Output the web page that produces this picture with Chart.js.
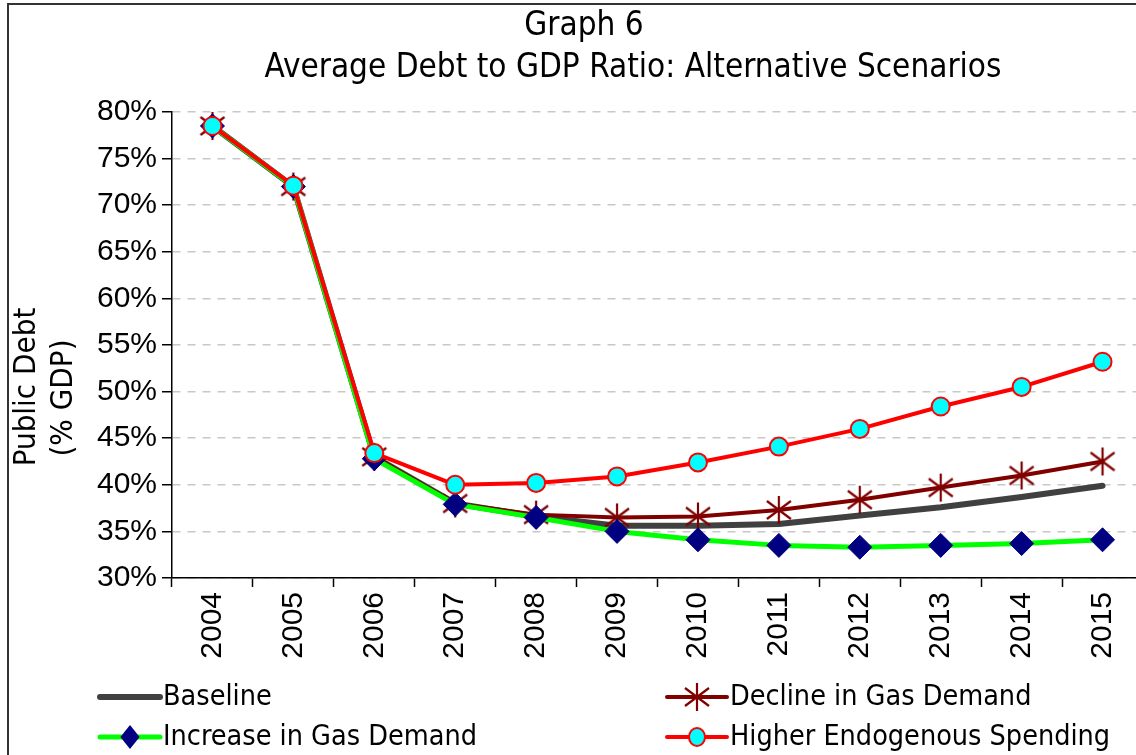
<!DOCTYPE html>
<html>
<head>
<meta charset="utf-8">
<title>Graph 6</title>
<script src="https://cdn.jsdelivr.net/npm/chart.js@4.4.1/dist/chart.umd.min.js"></script>
<style>
    html, body { margin: 0; padding: 0; background: #fff; overflow: hidden; }
    #debtChart { display: block; }
</style>
</head>
<body>
<canvas id="debtChart" width="1160" height="755"></canvas>
<script>
// Years and debt-to-GDP paths (percent of GDP) for each scenario
const years = ['2004', '2005', '2006', '2007', '2008', '2009', '2010', '2011', '2012', '2013', '2014', '2015'];
const baseline = [78.5, 72.0, 43.0, 38.0, 36.6, 35.6, 35.6, 35.8, 36.7, 37.6, 38.7, 39.9];
const declineGas = [78.5, 72.0, 43.0, 38.0, 36.8, 36.5, 36.6, 37.3, 38.4, 39.7, 41.0, 42.5];
const increaseGas = [78.5, 72.0, 42.8, 37.9, 36.5, 35.0, 34.1, 33.5, 33.3, 33.5, 33.7, 34.1];
const higherSpending = [78.5, 72.1, 43.4, 40.0, 40.2, 40.9, 42.4, 44.1, 46.0, 48.4, 50.5, 53.2];
const yTicks = [30, 35, 40, 45, 50, 55, 60, 65, 70, 75, 80];

const TEXT_FONT = '"DejaVu Sans Condensed", "Liberation Sans Narrow", "DejaVu Sans", sans-serif';
const TICK_FONT = '"Liberation Sans", Arial, sans-serif';

// Asterisk marker (vertical bar plus two diagonals)
function makeStar(color) {
    const c = document.createElement('canvas');
    c.width = 28;
    c.height = 30;
    const g = c.getContext('2d');
    g.strokeStyle = color;
    g.lineWidth = 2.2;
    g.beginPath();
    g.moveTo(14, 1); g.lineTo(14, 29);
    g.moveTo(2, 6); g.lineTo(26, 24);
    g.moveTo(26, 6); g.lineTo(2, 24);
    g.stroke();
    return c;
}
const starMarker = makeStar('#800000');

// Draw a legend sample marker by point style
function drawMarker(ctx, ds, x, y) {
    const style = ds.pointStyle;
    if (!ds.pointRadius) return;
    ctx.save();
    if (style instanceof HTMLCanvasElement) {
        ctx.drawImage(style, x - style.width / 2, y - style.height / 2);
    } else if (style === 'rectRot') {
        const r = ds.pointRadius;
        ctx.fillStyle = ds.pointBackgroundColor;
        ctx.beginPath();
        ctx.moveTo(x, y - r);
        ctx.lineTo(x + r * 0.8, y);
        ctx.lineTo(x, y + r);
        ctx.lineTo(x - r * 0.8, y);
        ctx.closePath();
        ctx.fill();
    } else {
        ctx.fillStyle = ds.pointBackgroundColor;
        ctx.strokeStyle = ds.pointBorderColor;
        ctx.lineWidth = ds.pointBorderWidth;
        ctx.beginPath();
        ctx.ellipse(x, y, ds.pointRadius - 1, ds.pointRadius, 0, 0, Math.PI * 2);
        ctx.fill();
        ctx.stroke();
    }
    ctx.restore();
}

// Frame, titles, axis title and two-column legend
const decorPlugin = {
    id: 'decor',
    beforeDraw(chart) {
        const ctx = chart.ctx;
        ctx.save();
        ctx.fillStyle = '#fff';
        ctx.fillRect(0, 0, chart.width, chart.height);
        ctx.restore();
    },
    afterDraw(chart) {
        const ctx = chart.ctx;
        ctx.save();

        // outer frame
        ctx.strokeStyle = '#333';
        ctx.lineWidth = 2;
        ctx.strokeRect(8, 4, chart.width + 20, chart.height + 20);

        // titles
        ctx.fillStyle = '#000';
        ctx.textAlign = 'center';
        ctx.textBaseline = 'alphabetic';
        ctx.font = '33px ' + TEXT_FONT;
        ctx.fillText('Graph 6', 584, 35);
        ctx.fillText('Average Debt to GDP Ratio: Alternative Scenarios', 633, 77);

        // y axis title
        ctx.font = '31px ' + TEXT_FONT;
        ctx.save();
        ctx.translate(35, 387);
        ctx.rotate(-Math.PI / 2);
        ctx.fillText('Public Debt', 0, 0);
        ctx.restore();
        ctx.save();
        ctx.translate(72, 398);
        ctx.rotate(-Math.PI / 2);
        ctx.fillText('(% GDP)', 0, 0);
        ctx.restore();

        // legend
        const ds = chart.data.datasets;
        const slots = [
            { i: 0, x: 100, y: 697 },
            { i: 1, x: 667, y: 697 },
            { i: 2, x: 100, y: 737 },
            { i: 3, x: 667, y: 737 }
        ];
        ctx.font = '28.5px ' + TEXT_FONT;
        ctx.textAlign = 'left';
        ctx.textBaseline = 'middle';
        slots.forEach(s => {
            const d = ds[s.i];
            ctx.save();
            ctx.strokeStyle = d.borderColor;
            ctx.lineWidth = d.borderWidth;
            ctx.lineCap = 'round';
            ctx.beginPath();
            ctx.moveTo(s.x, s.y);
            ctx.lineTo(s.x + 60, s.y);
            ctx.stroke();
            ctx.restore();
            drawMarker(ctx, d, s.x + 30, s.y);
            ctx.fillStyle = '#000';
            ctx.fillText(d.label, s.x + 63, s.y + 1);
        });
        ctx.restore();
    }
};

const ctx = document.getElementById('debtChart').getContext('2d');
const debtChart = new Chart(ctx, {
    type: 'line',
    data: {
        labels: years,
        datasets: [
            {
                label: 'Baseline',
                data: baseline,
                borderColor: '#404040',
                borderWidth: 6,
                pointRadius: 0,
                order: 4
            },
            {
                label: 'Decline in Gas Demand',
                data: declineGas,
                borderColor: '#800000',
                borderWidth: 4,
                pointStyle: starMarker,
                pointRadius: 13,
                order: 3
            },
            {
                label: 'Increase in Gas Demand',
                data: increaseGas,
                borderColor: '#00ff00',
                borderWidth: 5,
                pointStyle: 'rectRot',
                pointRadius: 12,
                pointBackgroundColor: '#000080',
                pointBorderColor: '#000080',
                pointBorderWidth: 1,
                order: 2
            },
            {
                label: 'Higher Endogenous Spending',
                data: higherSpending,
                borderColor: '#ff0000',
                borderWidth: 4,
                pointStyle: 'circle',
                pointRadius: 9,
                pointBackgroundColor: '#00ffff',
                pointBorderColor: '#ff0000',
                pointBorderWidth: 2,
                order: 1
            }
        ]
    },
    options: {
        responsive: false,
        animation: false,
        events: [],
        devicePixelRatio: 1,
        layout: {
            padding: { left: 0, top: 112, right: 15, bottom: 77 }
        },
        elements: {
            line: { tension: 0, borderCapStyle: 'round', borderJoinStyle: 'round' }
        },
        plugins: {
            legend: { display: false },
            title: { display: false },
            tooltip: { enabled: false }
        },
        scales: {
            x: {
                offset: true,
                afterFit: scale => { scale.height = 100; },
                grid: {
                    offset: true,
                    drawOnChartArea: false,
                    drawTicks: true,
                    tickLength: 9,
                    tickColor: '#000',
                    tickWidth: 1.5
                },
                border: { display: true, color: '#000', width: 1.5 },
                ticks: {
                    autoSkip: false,
                    minRotation: 90,
                    maxRotation: 90,
                    padding: 5,
                    color: '#000',
                    font: { family: TICK_FONT, size: 30 }
                }
            },
            y: {
                min: yTicks[0],
                max: yTicks[yTicks.length - 1],
                afterFit: scale => { scale.width = 172; },
                afterBuildTicks: scale => { scale.ticks = yTicks.map(v => ({ value: v })); },
                grid: {
                    color: '#c8c8c8',
                    lineWidth: 1.5,
                    drawTicks: true,
                    tickLength: 10,
                    tickColor: '#000',
                    tickWidth: 1.5
                },
                border: { display: true, color: '#000', width: 1.5, dash: [8, 7] },
                ticks: {
                    padding: 5,
                    color: '#000',
                    font: { family: TICK_FONT, size: 30 },
                    callback: v => v + '%'
                }
            }
        }
    },
    plugins: [decorPlugin]
});
</script>
</body>
</html>
